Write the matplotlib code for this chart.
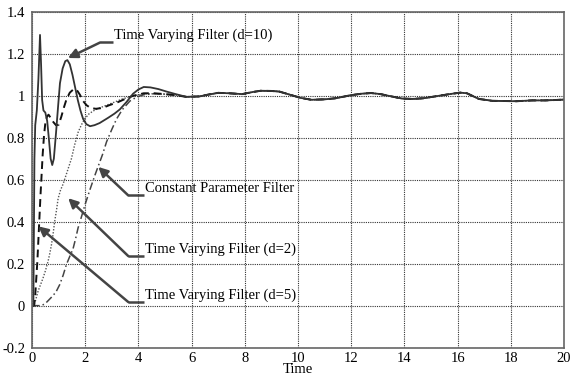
import numpy as np
import matplotlib
matplotlib.use("Agg")
from matplotlib import pyplot as plt

# Data ###################################################################
t_d10 = [0, 0.05, 0.07, 0.09, 0.12, 0.18, 0.24, 0.3, 0.34, 0.38, 0.43, 0.5, 0.57,
         0.63, 0.7, 0.76, 0.82, 0.9, 0.98, 1.05, 1.15, 1.25, 1.33, 1.42, 1.52,
         1.62, 1.72, 1.82, 1.92, 2.04, 2.18, 2.35, 2.54, 2.86, 3.1, 3.3, 3.55,
         3.8, 4.0, 4.2, 4.45, 4.75, 5.06, 5.4]
v_d10 = [0, 0, 0.35, 0.7, 0.86, 0.93, 1.08, 1.29, 1.15, 0.98, 0.93, 0.92, 0.88,
         0.8, 0.7, 0.67, 0.7, 0.82, 0.95, 1.06, 1.13, 1.165, 1.17, 1.15, 1.1,
         1.04, 0.98, 0.93, 0.89, 0.865, 0.855, 0.86, 0.87, 0.895, 0.915, 0.935,
         0.97, 1.01, 1.03, 1.042, 1.04, 1.032, 1.02, 1.008]

t_d5 = [0, 0.08, 0.12, 0.16, 0.2, 0.23, 0.26, 0.29, 0.32, 0.35, 0.4, 0.45, 0.5,
        0.56, 0.62, 0.7, 0.8, 0.9, 1.0, 1.1, 1.2, 1.3, 1.42, 1.55, 1.67, 1.8,
        1.92, 2.05, 2.2, 2.4, 2.65, 2.9, 3.2, 3.5, 3.8, 4.2, 4.6, 5.0, 5.4]
v_d5 = [0, 0, 0.05, 0.13, 0.21, 0.29, 0.37, 0.45, 0.53, 0.6, 0.72, 0.81, 0.87,
        0.9, 0.91, 0.895, 0.875, 0.86, 0.862, 0.9, 0.945, 0.985, 1.015, 1.03,
        1.03, 1.005, 0.975, 0.955, 0.942, 0.938, 0.942, 0.955, 0.968, 0.985,
        1.0, 1.012, 1.012, 1.008, 1.003]

t_d2 = [0, 0.05, 0.12, 0.23, 0.32, 0.41, 0.5, 0.6, 0.67, 0.73, 0.79, 0.85, 0.92,
        0.98, 1.07, 1.17, 1.3, 1.48, 1.6, 1.73, 1.85, 1.98, 2.15, 2.36, 2.6,
        2.86, 3.1, 3.4, 3.8, 4.2, 4.6, 5.0, 5.4]
v_d2 = [0, 0, 0.02, 0.07, 0.1, 0.13, 0.165, 0.21, 0.25, 0.29, 0.34, 0.4, 0.455,
        0.51, 0.55, 0.58, 0.63, 0.7, 0.765, 0.825, 0.86, 0.89, 0.915, 0.932,
        0.945, 0.958, 0.97, 0.985, 1.0, 1.008, 1.01, 1.007, 1.002]

t_cp = [0, 0.35, 0.5, 0.73, 0.9, 1.04, 1.17, 1.29, 1.42, 1.54, 1.64, 1.73, 1.85,
        1.99, 2.17, 2.36, 2.49, 2.65, 2.8, 3.0, 3.18, 3.4, 3.68, 3.95, 4.2, 4.6,
        5.0, 5.4]
v_cp = [0, 0, 0.01, 0.04, 0.065, 0.1, 0.145, 0.195, 0.235, 0.27, 0.32, 0.37,
        0.42, 0.48, 0.55, 0.62, 0.665, 0.72, 0.78, 0.84, 0.89, 0.935, 0.975,
        0.995, 1.005, 1.01, 1.008, 1.003]

# all four estimates share the same slow ripple once they have settled
t_tail = [5.8, 6.3, 6.6, 7.0, 7.4, 7.9, 8.3, 8.6, 9.0, 9.3, 9.7, 10.1, 10.5,
          11.0, 11.4, 12.0, 12.4, 12.75, 13.1, 13.4, 13.9, 14.3, 14.7, 15.3,
          15.7, 16.1, 16.35, 16.8, 17.3, 17.8, 18.2, 18.8, 19.3, 19.7, 20.0]
v_tail = [0.995, 0.997, 1.005, 1.014, 1.012, 1.008, 1.018, 1.024, 1.023, 1.02,
          1.005, 0.99, 0.981, 0.983, 0.988, 1.003, 1.01, 1.013, 1.008, 1.0,
          0.987, 0.985, 0.988, 1.0, 1.008, 1.015, 1.012, 0.985, 0.976, 0.975,
          0.974, 0.978, 0.978, 0.98, 0.982]

x_ticks = [0, 2, 4, 6, 8, 10, 12, 14, 16, 18, 20]
y_ticks = [-0.2, 0, 0.2, 0.4, 0.6, 0.8, 1, 1.2, 1.4]
y_labels = ["-0.2", "0", "0.2", "0.4", "0.6", "0.8", "1", "1.2", "1.4"]

# label text, arrow tip, elbow, text anchor
notes = [
    ("Time Varying Filter (d=10)", (1.35, 1.18), (2.56, 1.254), (3.08, 1.29)),
    ("Constant Parameter Filter", (2.49, 0.661), (3.62, 0.525), (4.25, 0.556)),
    ("Time Varying Filter (d=2)", (1.36, 0.512), (3.62, 0.236), (4.25, 0.268)),
    ("Time Varying Filter (d=5)", (0.24, 0.378), (3.62, 0.017), (4.25, 0.05)),
]

# Figure ################################################################
plt.rcParams['font.family'] = ['Liberation Serif', 'DejaVu Serif']
plt.rcParams['font.size'] = 10.5

fig = plt.figure(figsize=(5.72, 3.82), dpi=100)
ax = fig.add_axes([0.056, 0.09, 0.93, 0.879])

def full(t, v):
    return np.array(t + t_tail), np.array(v + v_tail)

tt, vv = full(t_cp, v_cp)
ax.plot(tt, vv, color='#444444', lw=1.1, linestyle=(0, (5, 2, 1, 2)))
tt, vv = full(t_d2, v_d2)
ax.plot(tt, vv, color='#555555', lw=1.0, linestyle=(0, (1, 1.2)))
tt, vv = full(t_d5, v_d5)
ax.plot(tt, vv, color='#111111', lw=1.4, linestyle=(0, (4, 2.5)))
tt, vv = full(t_d10, v_d10)
ax.plot(tt, vv, color='#333333', lw=1.3)

for label, tip, elbow, pos in notes:
    ax.plot([elbow[0], pos[0] - 0.05], [elbow[1], elbow[1]], color='#444444', lw=1.8,
            solid_capstyle='butt')
    ax.annotate('', xy=tip, xytext=elbow,
                arrowprops=dict(arrowstyle='-|>', color='#444444', lw=1.8,
                                mutation_scale=14, shrinkA=0, shrinkB=0))
    ax.text(pos[0], pos[1], label, ha='left', va='center')

ax.set_xlim(0, 20)
ax.set_ylim(-0.2, 1.4)
ax.set_xticks(x_ticks)
ax.set_yticks(y_ticks)
ax.set_yticklabels(y_labels)
ax.tick_params(axis='y', length=0, pad=5)
ax.tick_params(axis='x', length=0, pad=3)
ax.grid(True, color='#333333', linestyle=(0, (1, 1)), lw=0.8)
for s in ax.spines.values():
    s.set_color('#666666')
    s.set_linewidth(1.2)
ax.set_xlabel('Time', labelpad=-1)

plt.savefig('out.png', dpi=100)
